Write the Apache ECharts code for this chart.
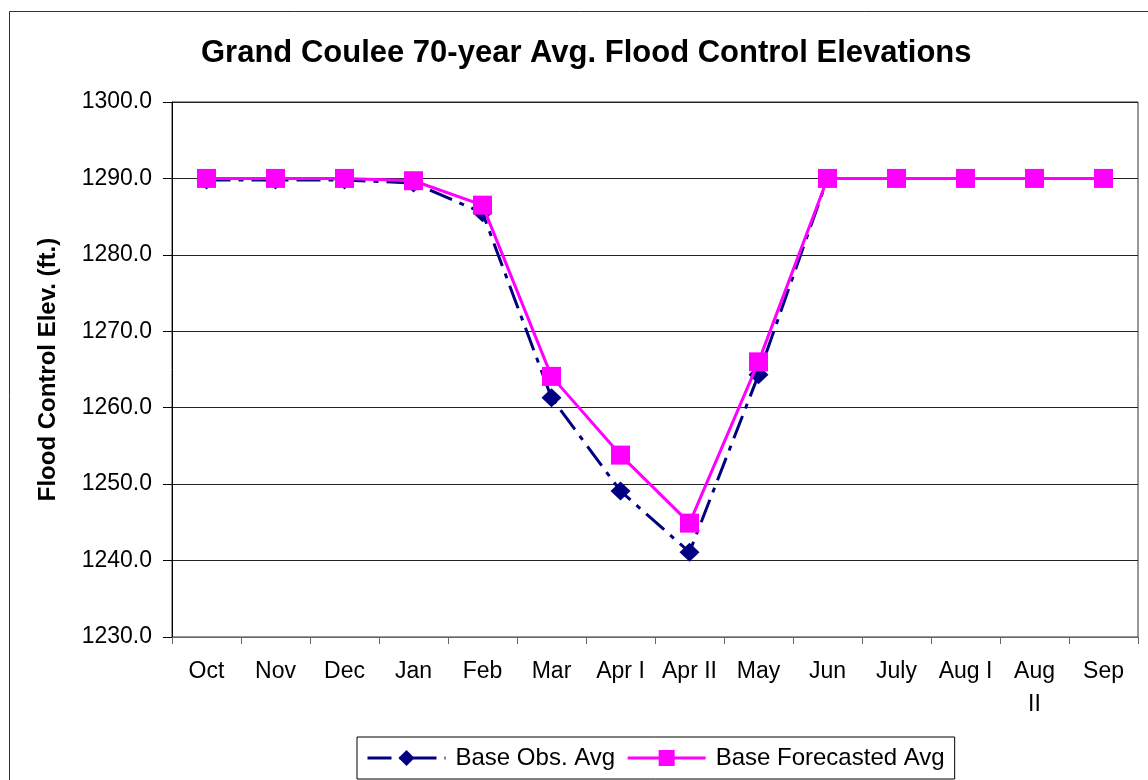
<!DOCTYPE html>
<html>
<head>
<meta charset="utf-8">
<title>Grand Coulee 70-year Avg. Flood Control Elevations</title>
<script src="https://cdn.jsdelivr.net/npm/echarts@6/dist/echarts.min.js"></script>
<style>
    html, body {
        margin: 0;
        padding: 0;
        background: #fff;
    }
    #chart {
        width: 1148px;
        height: 780px;
    }
</style>
</head>
<body>
<div id="chart"></div>
<script>
// 数据
const months = ['Oct', 'Nov', 'Dec', 'Jan', 'Feb', 'Mar', 'Apr I', 'Apr II', 'May', 'Jun', 'July', 'Aug I', 'Aug\nII', 'Sep']
const obsAvg = [1289.8, 1289.8, 1289.8, 1289.4, 1285.5, 1261.3, 1249.1, 1241.1, 1264.3, 1290.0, 1290.0, 1290.0, 1290.0, 1290.0]
const forecastAvg = [1290.0, 1290.0, 1290.0, 1289.7, 1286.5, 1264.1, 1253.8, 1244.9, 1266.0, 1290.0, 1290.0, 1290.0, 1290.0, 1290.0]
const yTicks = [1230, 1240, 1250, 1260, 1270, 1280, 1290, 1300]

const font = 'Arial, "Liberation Sans", sans-serif'

const myChart = echarts.init(document.getElementById('chart'))
myChart.setOption({
    animation: false,
    backgroundColor: '#fff',
    // 外框
    graphic: [
        {
            type: 'rect',
            silent: true,
            z: -10,
            shape: { x: 9.5, y: 11.5, width: 1200, height: 820 },
            style: { fill: 'none', stroke: '#333', lineWidth: 1 },
        },
    ],
    title: {
        text: 'Grand Coulee 70-year Avg. Flood Control Elevations',
        left: 201,
        top: 38,
        padding: 0,
        textStyle: {
            fontFamily: font,
            fontSize: 31,
            fontWeight: 'bold',
            color: '#000',
        },
    },
    legend: {
        left: 357,
        top: 737,
        padding: [9, 10, 9, 9],
        itemGap: 11,
        itemWidth: 78,
        itemHeight: 20,
        borderColor: '#000',
        borderWidth: 1,
        lineStyle: { width: 3 },
        textStyle: {
            fontFamily: font,
            fontSize: 24,
            color: '#000',
            padding: [0, 0, 0, 5],
        },
        data: ['Base Obs. Avg', 'Base Forecasted Avg'],
    },
    grid: {
        left: 172,
        right: 10,
        top: 102,
        bottom: 143,
        show: true,
        borderColor: '#333',
        borderWidth: 1,
    },
    xAxis: {
        type: 'category',
        data: months,
        boundaryGap: true,
        axisLine: { lineStyle: { color: '#666', width: 1 } },
        axisTick: { show: true, length: 7, lineStyle: { color: '#666' } },
        axisLabel: {
            interval: 0,
            margin: 18,
            fontFamily: font,
            fontSize: 23,
            color: '#000',
            lineHeight: 33,
        },
        splitLine: { show: false },
    },
    yAxis: {
        type: 'value',
        min: yTicks[0],
        max: yTicks[yTicks.length - 1],
        interval: 10,
        name: 'Flood Control Elev. (ft.)',
        nameLocation: 'middle',
        nameGap: 112,
        nameTextStyle: {
            fontFamily: font,
            fontSize: 24,
            fontWeight: 'bold',
            color: '#000',
        },
        axisLine: { show: true, lineStyle: { color: '#000', width: 1 } },
        axisTick: { show: true, length: 9, lineStyle: { color: '#000' } },
        axisLabel: {
            margin: 20,
            fontFamily: font,
            fontSize: 23,
            color: '#000',
            formatter: (v) => v.toFixed(1),
        },
        splitLine: { show: true, lineStyle: { color: '#222', width: 1 } },
    },
    series: [
        {
            name: 'Base Obs. Avg',
            type: 'line',
            data: obsAvg,
            symbol: 'diamond',
            symbolSize: [20, 19],
            z: 2,
            itemStyle: { color: '#000080' },
            lineStyle: {
                color: '#000080',
                width: 3,
                type: [24, 8, 5, 8],
            },
        },
        {
            name: 'Base Forecasted Avg',
            type: 'line',
            data: forecastAvg,
            symbol: 'rect',
            symbolSize: 19,
            z: 3,
            itemStyle: { color: '#ff00ff' },
            lineStyle: {
                color: '#ff00ff',
                width: 3,
                type: 'solid',
            },
        },
    ],
})
</script>
</body>
</html>
